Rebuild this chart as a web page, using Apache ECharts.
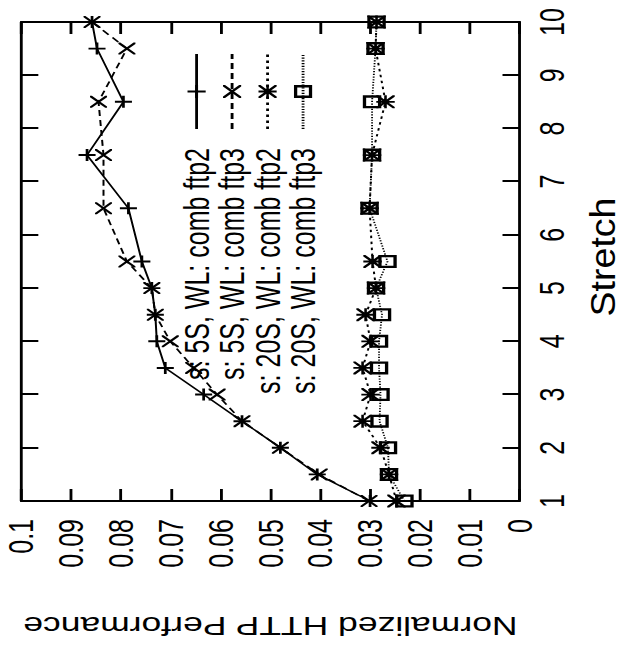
<!DOCTYPE html>
<html>
<head>
<meta charset="utf-8">
<script src="https://cdn.jsdelivr.net/npm/echarts@6/dist/echarts.min.js"></script>
<style>
html,body{margin:0;padding:0;background:#fff;overflow:hidden;width:626px;height:650px;}
#c{position:absolute;left:0;top:0;width:650px;height:441px;transform-origin:0 0;
   transform:translate(0,650px) rotate(-90deg) scale(1,1.4195);}
</style>
</head>
<body>
<div id="c"></div>
<script>
// Data
const stretch = [1, 1.5, 2, 2.5, 3, 3.5, 4, 4.5, 5, 5.5, 6.5, 7.5, 8.5, 9.5, 10];
const s5ftp2  = [0.0300, 0.0406, 0.0480, 0.0557, 0.0634, 0.0711, 0.0728, 0.0731, 0.0738, 0.0758, 0.0785, 0.0868, 0.0795, 0.0848, 0.0858];
const s5ftp3  = [0.0302, 0.0402, 0.0480, 0.0557, 0.0607, 0.0654, 0.0701, 0.0731, 0.0738, 0.0788, 0.0835, 0.0835, 0.0845, 0.0788, 0.0858];
const s20ftp2 = [0.0247, 0.0262, 0.0279, 0.0315, 0.0299, 0.0315, 0.0299, 0.0309, 0.0288, 0.0295, 0.0301, 0.0296, 0.0269, 0.0289, 0.0287];
const s20ftp3 = [0.0231, 0.0262, 0.0264, 0.0281, 0.0279, 0.0282, 0.0282, 0.0276, 0.0288, 0.0265, 0.0301, 0.0296, 0.0296, 0.0289, 0.0287];
const seriesNames = ['s: 5S, WL: comb ftp2', 's: 5S, WL: comb ftp3', 's: 20S, WL: comb ftp2', 's: 20S, WL: comb ftp3'];
const xTitle = 'Stretch';
const yTitle = 'Normalized HTTP Performance';

const FONT = "'Liberation Sans', Arial, Helvetica, sans-serif";
const PLUS = 'path://M4.2,0 H5.8 V4.2 H10 V5.8 H5.8 V10 H4.2 V5.8 H0 V4.2 H4.2 Z';
const CROSS = 'path://M0,0 L1.1,0 L10,8.9 L10,10 L8.9,10 L0,1.1 Z M10,0 L10,1.1 L1.1,10 L0,10 L0,8.9 L8.9,0 Z';
const STAR = 'path://M0,0 L1.1,0 L10,8.9 L10,10 L8.9,10 L0,1.1 Z M10,0 L10,1.1 L1.1,10 L0,10 L0,8.9 L8.9,0 Z M4.3,0 H5.7 V4.3 H10 V5.7 H5.7 V10 H4.3 V5.7 H0 V4.3 H4.3 Z';
const SQUARE = 'path://M0,0 H10 V10 H0 Z M1.8,1.8 V8.2 H8.2 V1.8 Z';

function pairs(ys){ return stretch.map((x,i)=>[x, ys[i]]); }

const chart = echarts.init(document.getElementById('c'), null, {renderer:'svg'});

const axisCommon = {
  axisLine:{show:true, onZero:false, lineStyle:{color:'#000', width:2}},
  axisTick:{show:true, inside:true, length:12, lineStyle:{color:'#000', width:2}},
  splitLine:{show:false}
};

function mkSeries(name, ys, symbol, size, ltype, lw){
  return {
    name, type:'line', data:pairs(ys), xAxisIndex:0, yAxisIndex:0,
    symbol, symbolSize:size, showAllSymbol:true,
    lineStyle:{color:'#000', width:lw, type:ltype},
    itemStyle:{color:'#000'},
    emphasis:{disabled:true},
    clip:false, animation:false
  };
}

chart.setOption({
  animation:false,
  color:['#000'],
  textStyle:{fontFamily:FONT, color:'#000'},
  grid:{left:149, right:22, top:15, bottom:75, outerBoundsMode:'none', containLabel:false},
  legend:{
    orient:'vertical', right:53, top:126, padding:0, itemGap:0,
    align:'right', itemWidth:75, itemHeight:16,
    textStyle:{fontSize:25, lineHeight:25, fontFamily:FONT, color:'#000', padding:[0,14,0,0]},
    data:seriesNames
  },
  // x-axis title, drawn wide as in the reference
  graphic:[{
    type:'text', x:393, y:425, scaleX:1.5, scaleY:1, silent:true,
    style:{text:xTitle, fontSize:25, fontFamily:FONT, fill:'#000', align:'center', verticalAlign:'middle'}
  }],
  xAxis:[
    Object.assign({type:'value', min:1, max:10, interval:1, position:'bottom',
      axisLabel:{fontSize:25, margin:10, color:'#000', fontFamily:FONT}}, axisCommon),
    Object.assign({type:'value', min:1, max:10, interval:1, position:'top',
      axisLabel:{show:false}}, axisCommon)
  ],
  yAxis:[
    Object.assign({type:'value', min:0, max:0.1, interval:0.01, position:'left',
      name:yTitle, nameLocation:'middle', nameGap:112, nameRotate:90,
      nameTextStyle:{fontSize:25, fontFamily:FONT, color:'#000'},
      axisLabel:{fontSize:25, margin:18, color:'#000', fontFamily:FONT,
        formatter:v=>String(+v.toFixed(2))}}, axisCommon),
    Object.assign({type:'value', min:0, max:0.1, interval:0.01, position:'right',
      axisLabel:{show:false}}, axisCommon)
  ],
  series:[
    mkSeries(seriesNames[0], s5ftp2, PLUS, 12, 'solid', 1.4),
    mkSeries(seriesNames[1], s5ftp3, CROSS, 12, [6,4], 1.4),
    mkSeries(seriesNames[2], s20ftp2, STAR, 13, [2.5,3.5], 1.4),
    mkSeries(seriesNames[3], s20ftp3, SQUARE, 13, [1.2,1.5], 1.3)
  ]
});
</script>
</body>
</html>
